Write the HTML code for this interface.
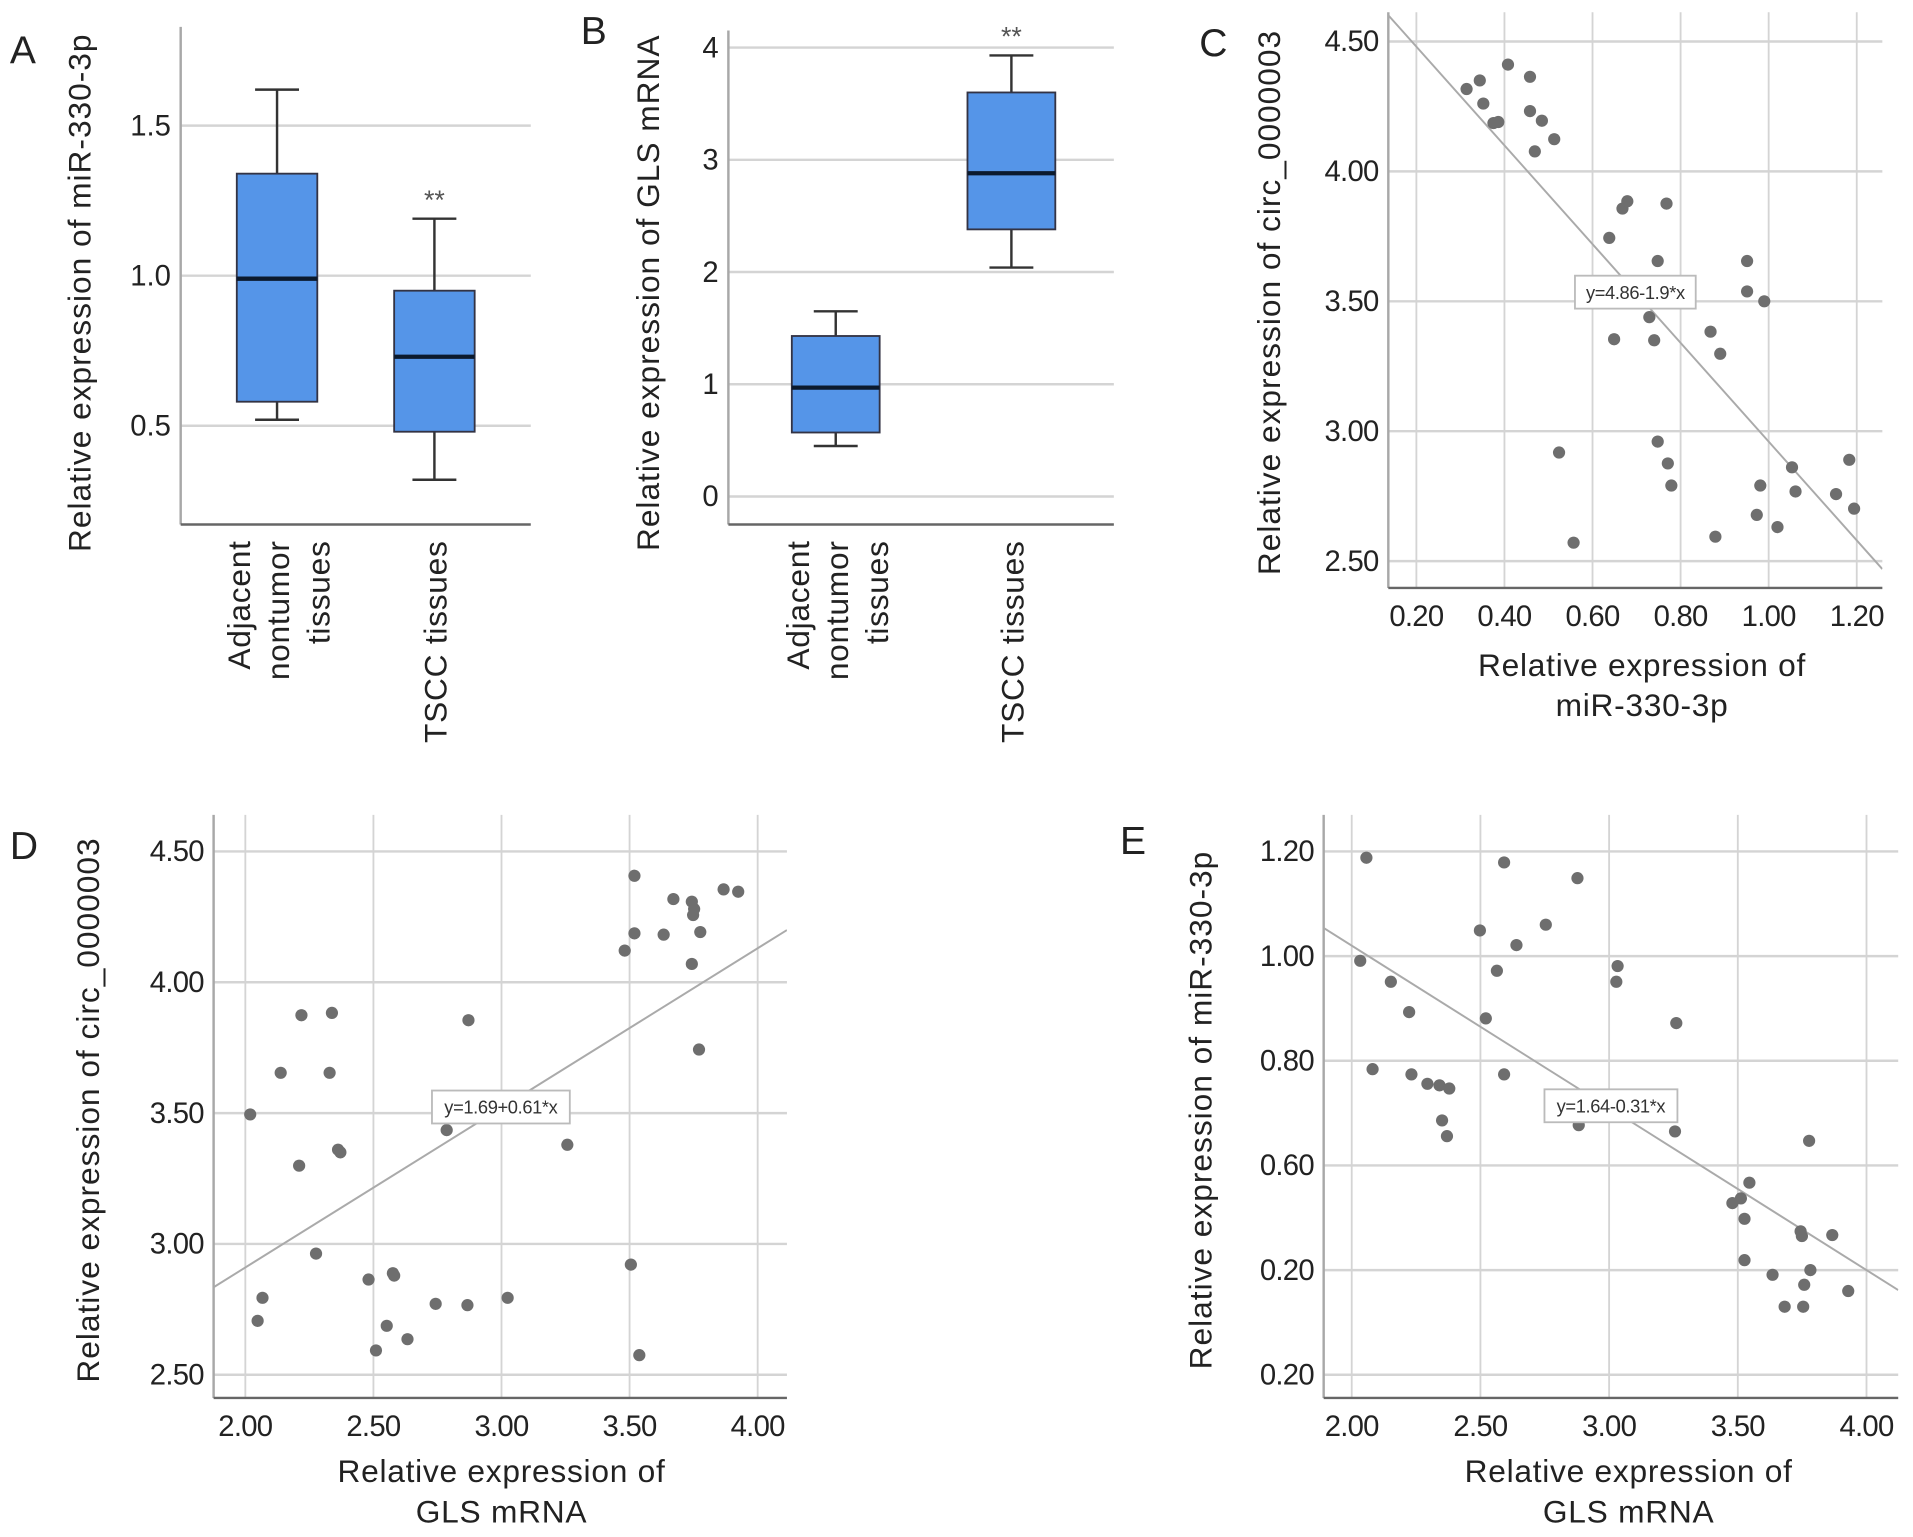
<!DOCTYPE html>
<html><head><meta charset="utf-8"><style>
html,body{margin:0;padding:0;background:#fff;}
svg{display:block;font-family:"Liberation Sans",Arial,sans-serif;}
</style></head><body>
<svg id="fig" xmlns="http://www.w3.org/2000/svg" width="1913" height="1537" viewBox="0 0 1568 1260"></svg>
<script>
// ---- Panel A (box plot) data ----
const aCats = ["Adjacent nontumor tissues", "TSCC tissues"];
const aTicks = [0.5, 1.0, 1.5];
const aTickLabels = ["0.5", "1.0", "1.5"];
const aLow = [0.52, 0.32];
const aQ1 = [0.58, 0.48];
const aMed = [0.99, 0.73];
const aQ3 = [1.34, 0.95];
const aHigh = [1.62, 1.19];
// ---- Panel B (box plot) data ----
const bCats = ["Adjacent nontumor tissues", "TSCC tissues"];
const bTicks = [0, 1, 2, 3, 4];
const bTickLabels = ["0", "1", "2", "3", "4"];
const bLow = [0.45, 2.04];
const bQ1 = [0.57, 2.38];
const bMed = [0.97, 2.88];
const bQ3 = [1.43, 3.60];
const bHigh = [1.65, 3.93];
// ---- Panel C scatter ----
const cX = [0.314,0.344,0.352,0.375,0.386,0.408,0.458,0.458,0.485,0.469,0.513,0.638,0.668,0.679,0.768,0.748,0.951,0.951,0.99,0.729,0.649,0.740,0.868,0.890,0.524,0.748,0.771,0.779,0.557,0.879,0.981,0.973,1.020,1.053,1.061,1.153,1.183,1.194];
const cY = [4.317,4.350,4.261,4.186,4.190,4.411,4.364,4.232,4.195,4.077,4.124,3.744,3.857,3.885,3.876,3.655,3.655,3.538,3.500,3.439,3.354,3.350,3.383,3.298,2.918,2.960,2.876,2.791,2.571,2.594,2.791,2.678,2.631,2.861,2.768,2.758,2.890,2.702];
const cXTicks = [0.2,0.4,0.6,0.8,1.0,1.2];
const cXTickLabels = ["0.20","0.40","0.60","0.80","1.00","1.20"];
const cYTicks = [2.5,3.0,3.5,4.0,4.5];
const cYTickLabels = ["2.50","3.00","3.50","4.00","4.50"];
const cFit = [4.86, -1.9];
// ---- Panel D scatter ----
const dX = [2.019,2.048,2.067,2.138,2.210,2.219,2.276,2.329,2.338,2.362,2.371,2.481,2.510,2.552,2.576,2.581,2.633,2.743,2.786,2.867,2.871,3.024,3.257,3.481,3.519,3.519,3.505,3.538,3.633,3.671,3.743,3.748,3.752,3.743,3.776,3.771,3.867,3.924];
const dY = [3.495,2.706,2.794,3.654,3.299,3.874,2.963,3.654,3.883,3.360,3.350,2.864,2.593,2.687,2.888,2.879,2.636,2.771,3.435,2.766,3.855,2.794,3.379,4.121,4.407,4.187,2.921,2.575,4.182,4.318,4.308,4.257,4.280,4.070,4.192,3.743,4.355,4.346];
const dXTicks = [2.0,2.5,3.0,3.5,4.0];
const dXTickLabels = ["2.00","2.50","3.00","3.50","4.00"];
const dYTicks = [2.5,3.0,3.5,4.0,4.5];
const dYTickLabels = ["2.50","3.00","3.50","4.00","4.50"];
const dFit = [1.69, 0.61];
// ---- Panel E scatter ----
const eX = [2.033,2.057,2.081,2.152,2.223,2.232,2.294,2.341,2.379,2.351,2.370,2.498,2.521,2.564,2.592,2.592,2.640,2.754,2.877,2.882,3.028,3.033,3.261,3.256,3.777,3.479,3.512,3.545,3.526,3.526,3.635,3.682,3.744,3.749,3.758,3.754,3.782,3.867,3.929];
const eY = [0.991,1.188,0.784,0.951,0.893,0.774,0.756,0.753,0.747,0.686,0.656,1.049,0.881,0.972,1.179,0.774,1.021,1.060,1.149,0.677,0.951,0.981,0.872,0.665,0.647,0.528,0.537,0.567,0.498,0.419,0.391,0.330,0.474,0.465,0.372,0.330,0.400,0.467,0.360];
const eXTicks = [2.0,2.5,3.0,3.5,4.0];
const eXTickLabels = ["2.00","2.50","3.00","3.50","4.00"];
const eYTicks = [0.2,0.4,0.6,0.8,1.0,1.2];
const eYTickLabels = ["0.20","0.20","0.60","0.80","1.00","1.20"];
const eFit = [1.64, -0.31];

const NS = "http://www.w3.org/2000/svg";
const svg = document.getElementById('fig');
function mk(tag, attrs, parent, txt){
  const e = document.createElementNS(NS, tag);
  for (const k in attrs) e.setAttribute(k, attrs[k]);
  if (txt !== undefined) e.textContent = txt;
  (parent || svg).appendChild(e);
  return e;
}
function lin(d0,d1,r0,r1){ return v => r0 + (v-d0)/(d1-d0)*(r1-r0); }
const GRID = "#d4d4d4", AXIS = "#a8a8a8", TXT = "#222";

function panelLetter(t,x,y){
  const e = mk('text',{x:x,y:y,'font-size':32,fill:TXT},svg,t);
  
  
}
function yTitle(lines,x,cy,fs){
  lines.forEach((l,i)=>{
    const e = mk('text',{x:0,y:0,transform:`translate(${x+i*32},${cy}) rotate(-90)`,'text-anchor':'middle','font-size':fs,fill:TXT,'letter-spacing':'0.8'},svg,l);
    
    
  });
}
function xTitle(lines,cx,y){
  lines.forEach((l,i)=>{
    const e = mk('text',{x:cx,y:y+i*33,'text-anchor':'middle','font-size':26,fill:TXT,'letter-spacing':'0.6'},svg,l);
    
    
  });
}

function boxPanel(id, g, cats, ticks, tickLabels, low, q1, med, q3, high){
  const y = lin(g.d0,g.d1,g.y0,g.y1);
  ticks.forEach((t,i)=>{
    const l = mk('line',{x1:g.xl,x2:g.xr,y1:y(t),y2:y(t),stroke:GRID,'stroke-width':2});
    
    
    const tx = mk('text',{x:g.xl-8,y:y(t)+8,'text-anchor':'end','font-size':24,fill:TXT},svg,tickLabels[i]);
    
    
  });
  const ya = mk('line',{x1:g.xl,x2:g.xl,y1:g.top,y2:g.bot,stroke:AXIS,'stroke-width':2});
  
  
  const xa = mk('line',{x1:g.xl,x2:g.xr,y1:g.bot,y2:g.bot,stroke:'#666','stroke-width':2});
  
  
  cats.forEach((c,i)=>{
    const cx = g.cx[i], hw = g.bw/2;
    const grp = mk('g',{});
    
    
    mk('line',{x1:cx,x2:cx,y1:y(low[i]),y2:y(high[i]),stroke:'#333','stroke-width':2},grp);
    mk('line',{x1:cx-18,x2:cx+18,y1:y(low[i]),y2:y(low[i]),stroke:'#333','stroke-width':2},grp);
    mk('line',{x1:cx-18,x2:cx+18,y1:y(high[i]),y2:y(high[i]),stroke:'#333','stroke-width':2},grp);
    mk('rect',{x:cx-hw,y:y(q3[i]),width:g.bw,height:y(q1[i])-y(q3[i]),fill:'#5595e8',stroke:'#334','stroke-width':1.5},grp);
    mk('line',{x1:cx-hw,x2:cx+hw,y1:y(med[i]),y2:y(med[i]),stroke:'#0b1a2e','stroke-width':3.5},grp);
    const lines = i===0 ? ["Adjacent","nontumor","tissues"] : ["TSCC tissues"];
    const offs = i===0 ? [-32,0,33] : [0];
    lines.forEach((l,k)=>{
      const t = mk('text',{x:0,y:0,transform:`translate(${cx+offs[k]+10},${g.bot+13}) rotate(-90)`,'text-anchor':'end','font-size':26,fill:TXT,'letter-spacing':'0.6'},svg,l);
      
      
    });
  });
  const st = mk('text',{x:g.cx[1],y:y(high[1])-8,'text-anchor':'middle','font-size':22,fill:'#555'},svg,'**');
  
  
}

function scatterPanel(id, g, xs, ys, xt, xtl, yt, ytl, fit, label, lbox){
  const x = lin(g.xd0,g.xd1,g.xp0,g.xp1), y = lin(g.yd0,g.yd1,g.yp0,g.yp1);
  xt.forEach((t,i)=>{
    const l = mk('line',{x1:x(t),x2:x(t),y1:g.top,y2:g.bot,stroke:GRID,'stroke-width':1.5});
    
    
    const tx = mk('text',{x:x(t),y:g.bot+31,'text-anchor':'middle','font-size':24,fill:TXT,'letter-spacing':'-0.6'},svg,xtl[i]);
    
    
  });
  yt.forEach((t,i)=>{
    const l = mk('line',{x1:g.xl,x2:g.xr,y1:y(t),y2:y(t),stroke:GRID,'stroke-width':2});
    
    
    const tx = mk('text',{x:g.xl-8,y:y(t)+8,'text-anchor':'end','font-size':24,fill:TXT,'letter-spacing':'-0.6'},svg,ytl[i]);
    
    
  });
  const ya = mk('line',{x1:g.xl,x2:g.xl,y1:g.top,y2:g.bot,stroke:AXIS,'stroke-width':2});
  
  
  const xa = mk('line',{x1:g.xl,x2:g.xr,y1:g.bot,y2:g.bot,stroke:'#666','stroke-width':2});
  
  
  const cid = 'clip-'+id;
  const cp = mk('clipPath',{id:cid});
  mk('rect',{x:g.xl,y:g.top,width:g.xr-g.xl,height:g.bot-g.top},cp);
  const xa0 = g.xd0 + (g.xl-g.xp0)/(g.xp1-g.xp0)*(g.xd1-g.xd0);
  const xa1 = g.xd0 + (g.xr-g.xp0)/(g.xp1-g.xp0)*(g.xd1-g.xd0);
  const fl = mk('line',{x1:x(xa0),y1:y(fit[0]+fit[1]*xa0),x2:x(xa1),y2:y(fit[0]+fit[1]*xa1),stroke:'#aaa','stroke-width':1.6,'clip-path':`url(#${cid})`});
  
  
  xs.forEach((v,i)=>{
    const c = mk('circle',{cx:x(v),cy:y(ys[i]),r:5,fill:'#6e6e6e'});
    
    
  });
  const lb = mk('rect',{x:lbox[0],y:lbox[1],width:lbox[2],height:27,fill:'#fff',stroke:'#bbb','stroke-width':1.5});
  
  
  const lt = mk('text',{x:lbox[0]+lbox[2]/2,y:lbox[1]+19,'text-anchor':'middle','font-size':15,fill:'#333','letter-spacing':'-0.3'},svg,label);
  
  
}

// Panel A
panelLetter('A',8,52);
boxPanel('a',{d0:0.5,d1:1.5,y0:349,y1:103,xl:148,xr:435,top:22,bot:430,cx:[227,356],bw:66},aCats,aTicks,aTickLabels,aLow,aQ1,aMed,aQ3,aHigh);
yTitle(["Relative expression of miR-330-3p"],74,240,26);
// Panel B
panelLetter('B',476,36);
boxPanel('b',{d0:0,d1:4,y0:407,y1:39,xl:597,xr:913,top:25,bot:430,cx:[685,829],bw:72},bCats,bTicks,bTickLabels,bLow,bQ1,bMed,bQ3,bHigh);
yTitle(["Relative expression of GLS mRNA"],540,240,26);
// Panel C
panelLetter('C',983,46);
scatterPanel('c',{xd0:0.2,xd1:1.2,xp0:1161,xp1:1522,yd0:2.5,yd1:4.5,yp0:460,yp1:34,xl:1138,xr:1543,top:10,bot:482},cX,cY,cXTicks,cXTickLabels,cYTicks,cYTickLabels,cFit,"y=4.86-1.9*x",[1291,226,99]);
yTitle(["Relative expression of circ_0000003"],1049,248,26);
xTitle(["Relative expression of","miR-330-3p"],1346,554);
// Panel D
panelLetter('D',8,704);
scatterPanel('d',{xd0:2.0,xd1:4.0,xp0:201,xp1:621,yd0:2.5,yd1:4.5,yp0:1127,yp1:698,xl:175,xr:645,top:668,bot:1146},dX,dY,dXTicks,dXTickLabels,dYTicks,dYTickLabels,dFit,"y=1.69+0.61*x",[354,894,113]);
yTitle(["Relative expression of circ_0000003"],81,910,26);
xTitle(["Relative expression of","GLS mRNA"],411,1215);
// Panel E
panelLetter('E',918,700);
scatterPanel('e',{xd0:2.0,xd1:4.0,xp0:1108,xp1:1530,yd0:0.2,yd1:1.2,yp0:1127,yp1:698,xl:1085,xr:1556,top:668,bot:1146},eX,eY,eXTicks,eXTickLabels,eYTicks,eYTickLabels,eFit,"y=1.64-0.31*x",[1266,893,109]);
yTitle(["Relative expression of miR-330-3p"],993,910,26);
xTitle(["Relative expression of","GLS mRNA"],1335,1215);
</script>
</body></html>
